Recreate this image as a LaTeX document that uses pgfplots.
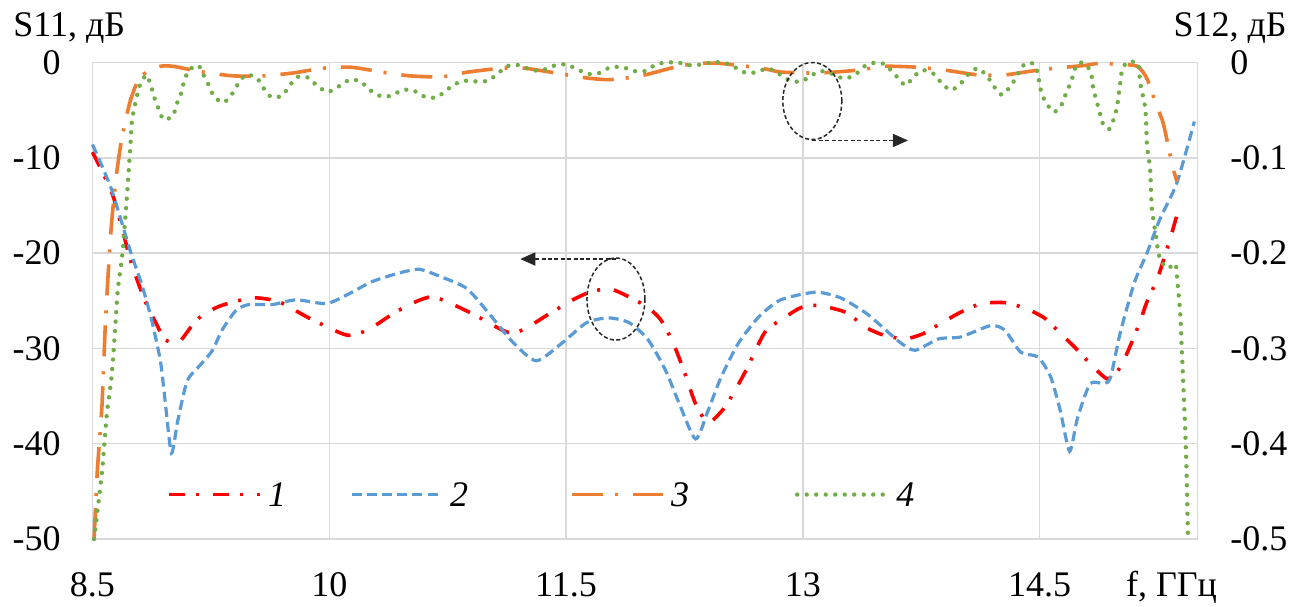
\documentclass[border=0pt]{standalone}
\usepackage{fontspec}
\setmainfont{Liberation Serif}
\usepackage{pgfplots}
\pgfplotsset{compat=1.18}
\usetikzlibrary{arrows.meta}
\definecolor{cRed}{RGB}{255,0,0}
\definecolor{cBlue}{RGB}{91,155,213}
\definecolor{cOrange}{RGB}{237,125,49}
\definecolor{cGreen}{RGB}{112,173,71}
\definecolor{cGrid}{RGB}{217,217,217}
\begin{document}
\fontsize{18}{21.6}\selectfont
\begin{tikzpicture}
\pgfplotsset{
  base/.style={
    scale only axis, width=552.5pt, height=238.25pt,
    xmin=8.5, xmax=15.5,
    clip=false,
    tick style={draw=none},
    axis line style={cGrid, line width=0.75pt},
    legend image code/.code={\draw[##1] (0pt,1.5pt) -- (45.5pt,1.5pt);},
  }
}
\begin{axis}[base,
  ymin=-50, ymax=0,
  ytick={-50,-40,-30,-20,-10,0},
  yticklabels={-50,-40,-30,-20,-10,0},
  xtick={8.5,10,11.5,13,14.5},
  xticklabels={8.5,10,11.5,13,14.5},
  grid=major, major grid style={cGrid, line width=0.75pt},
  xticklabel style={anchor=base, yshift=-28.5pt, inner sep=0pt},
  yticklabel style={anchor=east, xshift=-15.75pt, inner sep=0pt},
  legend style={at={(axis cs:8.972,-45.65)}, anchor=west, draw=none, fill=none, inner sep=0pt,
    legend columns=2, /tikz/every even column/.append style={column sep=29pt},
    nodes={inner xsep=3pt, inner ysep=0pt, font=\itshape}},
]
\addplot[cRed, line width=1.8pt, dash pattern=on 8pt off 5.5pt on 1.5pt off 7pt, smooth, tension=0.4] coordinates {
(8.50,-9.4)(8.63,-14.0)(8.74,-20.7)(8.83,-24.9)(8.91,-27.6)(8.96,-29.1)(9.05,-29.3)(9.16,-27.0)(9.30,-25.6)(9.51,-24.7)(9.68,-25.1)(9.87,-26.8)(10.11,-28.6)(10.25,-28.0)(10.44,-26.0)(10.65,-24.6)(10.90,-26.3)(11.16,-28.4)(11.40,-26.3)(11.52,-25.1)(11.65,-24.1)(11.79,-23.8)(12.00,-25.5)(12.10,-27.0)(12.18,-29.5)(12.25,-32.5)(12.32,-35.8)(12.40,-37.8)(12.50,-36.3)(12.57,-34.4)(12.64,-32.3)(12.76,-28.3)(12.89,-26.7)(12.99,-25.7)(13.10,-25.5)(13.27,-26.2)(13.40,-27.8)(13.51,-28.6)(13.65,-29.0)(13.77,-28.4)(13.87,-27.4)(14.00,-26.2)(14.13,-25.3)(14.28,-25.2)(14.41,-25.8)(14.53,-26.8)(14.63,-28.4)(14.73,-30.0)(14.82,-31.6)(14.93,-33.2)(15.01,-32.0)(15.08,-29.5)(15.14,-27.0)(15.18,-25.1)(15.25,-22.5)(15.33,-18.3)(15.37,-16.0)
};
\addlegendentry{1}
\addplot[cBlue, line width=1.6pt, dash pattern=on 5pt off 2.6pt, smooth, tension=0.4] coordinates {
(8.50,-8.6)(8.62,-13.3)(8.74,-19.8)(8.81,-23.2)(8.87,-26.7)(8.93,-31.3)(8.96,-35.5)(9.00,-41.0)(9.04,-37.6)(9.10,-33.4)(9.18,-31.8)(9.26,-30.2)(9.32,-28.1)(9.41,-26.0)(9.49,-25.4)(9.64,-25.4)(9.79,-24.9)(9.98,-25.3)(10.11,-24.4)(10.27,-23.0)(10.44,-22.1)(10.57,-21.7)(10.71,-22.5)(10.87,-23.7)(11.01,-26.3)(11.16,-29.3)(11.31,-31.3)(11.47,-29.5)(11.63,-27.3)(11.77,-26.8)(11.90,-27.3)(12.02,-29.1)(12.13,-32.3)(12.21,-35.5)(12.32,-39.5)(12.40,-36.5)(12.48,-33.1)(12.59,-29.5)(12.72,-26.7)(12.86,-24.9)(13.08,-24.1)(13.24,-24.7)(13.40,-26.3)(13.50,-27.7)(13.61,-29.3)(13.71,-30.2)(13.86,-29.0)(14.00,-28.8)(14.19,-27.6)(14.28,-28.1)(14.38,-30.4)(14.49,-30.9)(14.57,-33.0)(14.63,-36.5)(14.69,-40.8)(14.74,-37.3)(14.82,-33.7)(14.91,-33.7)(14.95,-33.0)(15.01,-28.4)(15.10,-23.1)(15.18,-20.0)(15.26,-16.5)(15.37,-12.6)(15.48,-6.2)
};
\addlegendentry{2}
\node[anchor=base west, inner sep=0pt, xshift=-39.75pt, yshift=13.25pt] at (rel axis cs:0,1) {S11, дБ};
\node[anchor=base, inner sep=0pt, yshift=-28.5pt] at (axis cs:15.335,-50) {f, ГГц};
\end{axis}
\begin{axis}[base,
  axis x line=none, axis y line*=right,
  ymin=-0.5, ymax=0,
  ytick={-0.5,-0.4,-0.3,-0.2,-0.1,0},
  yticklabels={-0.5,-0.4,-0.3,-0.2,-0.1,0},
  yticklabel style={anchor=west, xshift=16.25pt, inner sep=0pt},
  legend style={at={(axis cs:11.525,-0.4565)}, anchor=west, draw=none, fill=none, inner sep=0pt,
    legend columns=2, /tikz/every even column/.append style={column sep=50pt},
    nodes={inner xsep=3pt, inner ysep=0pt, font=\itshape}},
]
\addplot[cOrange, line width=1.8pt, dash pattern=on 15.5pt off 6pt on 1.5pt off 7.5pt, smooth, tension=0.4] coordinates {
(8.51,-0.50)(8.53,-0.43)(8.56,-0.36)(8.58,-0.28)(8.60,-0.22)(8.62,-0.17)(8.65,-0.12)(8.68,-0.085)(8.71,-0.06)(8.74,-0.04)(8.78,-0.022)(8.84,-0.010)(8.93,-0.004)(9.01,-0.004)(9.20,-0.010)(9.39,-0.014)(9.58,-0.014)(9.77,-0.011)(9.96,-0.006)(10.14,-0.005)(10.33,-0.010)(10.51,-0.014)(10.71,-0.015)(10.88,-0.010)(11.09,-0.006)(11.24,-0.006)(11.47,-0.012)(11.62,-0.016)(11.75,-0.018)(11.85,-0.017)(12.00,-0.013)(12.21,-0.004)(12.34,-0.001)(12.48,-0.001)(12.74,-0.006)(12.86,-0.010)(13.10,-0.011)(13.35,-0.008)(13.52,-0.004)(13.73,-0.005)(13.90,-0.008)(14.11,-0.013)(14.28,-0.013)(14.49,-0.008)(14.66,-0.005)(14.79,-0.003)(14.87,-0.001)(15.01,-0.002)(15.12,-0.004)(15.18,-0.017)(15.24,-0.045)(15.28,-0.062)(15.31,-0.084)(15.34,-0.108)(15.37,-0.125)
};
\addlegendentry{3}
\addplot[cGreen, line width=2.2pt, line cap=round, dash pattern=on 0pt off 4.75pt, smooth, tension=0.4] coordinates {
(8.51,-0.50)(8.56,-0.43)(8.59,-0.37)(8.62,-0.331)(8.64,-0.288)(8.66,-0.239)(8.69,-0.200)(8.72,-0.136)(8.74,-0.088)(8.75,-0.061)(8.78,-0.036)(8.80,-0.024)(8.84,-0.013)(8.87,-0.024)(8.89,-0.036)(8.92,-0.049)(8.95,-0.060)(9.01,-0.056)(9.03,-0.045)(9.06,-0.033)(9.08,-0.020)(9.11,-0.008)(9.17,-0.003)(9.20,-0.012)(9.24,-0.025)(9.27,-0.036)(9.33,-0.042)(9.38,-0.034)(9.42,-0.023)(9.47,-0.013)(9.54,-0.016)(9.58,-0.026)(9.63,-0.036)(9.70,-0.035)(9.75,-0.024)(9.80,-0.015)(9.87,-0.016)(9.92,-0.024)(9.99,-0.031)(10.06,-0.025)(10.13,-0.018)(10.20,-0.020)(10.25,-0.028)(10.32,-0.035)(10.39,-0.035)(10.46,-0.029)(10.53,-0.029)(10.59,-0.035)(10.67,-0.037)(10.73,-0.031)(10.79,-0.023)(10.87,-0.019)(10.94,-0.020)(11.01,-0.019)(11.07,-0.011)(11.14,-0.003)(11.21,-0.003)(11.28,-0.008)(11.35,-0.008)(11.43,-0.003)(11.50,-0.002)(11.57,-0.007)(11.64,-0.012)(11.71,-0.011)(11.78,-0.005)(11.86,-0.005)(11.93,-0.009)(12.00,-0.009)(12.07,-0.002)(12.14,0.000)(12.21,0.000)(12.29,-0.003)(12.36,-0.002)(12.42,0.000)(12.50,0.000)(12.57,-0.005)(12.64,-0.011)(12.71,-0.010)(12.78,-0.006)(12.86,-0.013)(12.92,-0.019)(12.99,-0.020)(13.05,-0.014)(13.11,-0.009)(13.19,-0.012)(13.26,-0.017)(13.33,-0.013)(13.39,-0.004)(13.46,0.000)(13.52,-0.002)(13.58,-0.012)(13.65,-0.024)(13.70,-0.015)(13.76,-0.008)(13.83,-0.012)(13.88,-0.022)(13.94,-0.029)(14.00,-0.022)(14.05,-0.012)(14.11,-0.006)(14.17,-0.015)(14.21,-0.025)(14.26,-0.034)(14.31,-0.026)(14.35,-0.016)(14.39,-0.004)(14.44,0.000)(14.48,-0.006)(14.51,-0.031)(14.54,-0.042)(14.59,-0.052)(14.64,-0.044)(14.67,-0.031)(14.70,-0.020)(14.72,-0.008)(14.75,0.000)(14.80,-0.003)(14.83,-0.015)(14.84,-0.028)(14.86,-0.040)(14.88,-0.052)(14.90,-0.064)(14.94,-0.070)(14.97,-0.059)(14.99,-0.047)(15.00,-0.035)(15.01,-0.022)(15.02,-0.010)(15.05,0.000)(15.12,0.000)(15.13,-0.010)(15.14,-0.024)(15.17,-0.049)(15.18,-0.087)(15.20,-0.112)(15.21,-0.151)(15.23,-0.175)(15.26,-0.205)(15.31,-0.216)(15.36,-0.211)(15.37,-0.225)(15.39,-0.262)(15.40,-0.299)(15.41,-0.337)(15.42,-0.376)(15.43,-0.425)(15.44,-0.50)
};
\addlegendentry{4}
\draw[black!85, line width=0.75pt, dash pattern=on 2pt off 1.2pt] (axis cs:13.06,-0.0404) ellipse [x radius=14.75pt, y radius=19.25pt];
\draw[black!85, line width=0.75pt, dash pattern=on 2pt off 1.2pt, -{Triangle[length=7.5pt,width=6.5pt]}] (axis cs:13.06,-0.0818) -- (axis cs:13.666,-0.0818);
\draw[black!85, line width=0.75pt, dash pattern=on 2pt off 1.2pt] (axis cs:11.816,-0.2482) ellipse [x radius=14.5pt, y radius=20.5pt];
\draw[black!85, line width=0.75pt, dash pattern=on 2pt off 1.2pt, -{Triangle[length=7.5pt,width=6.5pt]}] (axis cs:11.816,-0.2062) -- (axis cs:11.21,-0.2062);
\node[anchor=base east, inner sep=0pt, xshift=44.75pt, yshift=13.25pt] at (rel axis cs:1,1) {S12, дБ};
\end{axis}
\pgfresetboundingbox
\path[use as bounding box] (-46.25pt,-33.5pt) rectangle (603.75pt,269.5pt);
\end{tikzpicture}
\end{document}
